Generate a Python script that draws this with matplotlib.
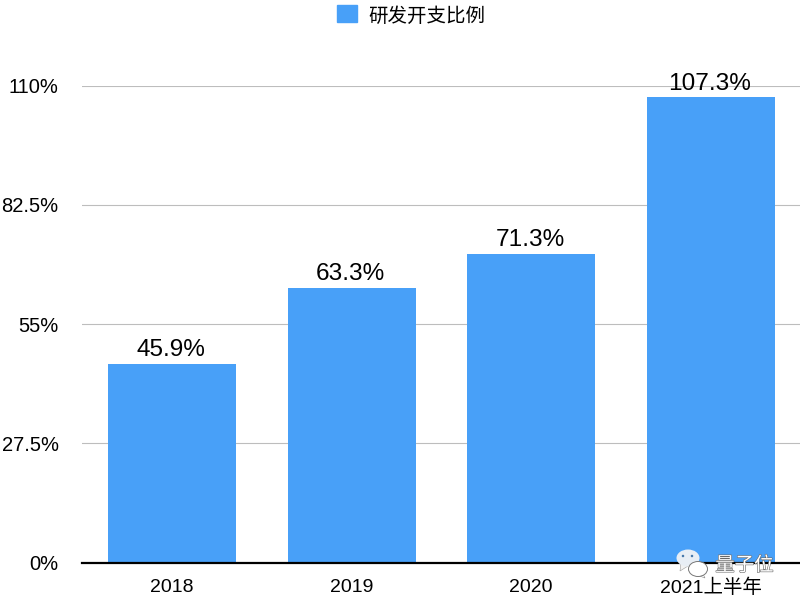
import matplotlib
matplotlib.use('Agg')
import matplotlib.pyplot as plt
import matplotlib.patheffects as pe
from matplotlib.patches import Patch, Ellipse, Polygon

plt.rcParams['font.family'] = ['Liberation Sans', 'Noto Sans CJK SC', 'DejaVu Sans']

categories = ['2018', '2019', '2020', '2021上半年']
values = [45.9, 63.3, 71.3, 107.3]
yticks = [0, 27.5, 55, 82.5, 110]
ytick_labels = ['0%', '27.5%', '55%', '82.5%', '110%']
series_name = '研发开支比例'
watermark = '量子位'

BLUE = '#48A0F8'
W, H = 800, 600
fig = plt.figure(figsize=(8, 6), dpi=100)
top, base = 85.7, 562.7
ax = fig.add_axes([82.3/W, 1-base/H, 718/W, (base-top)/H])
xs = list(range(len(categories)))
ax.bar(xs, values, width=128/179.5, color=BLUE, zorder=3)
ax.set_xlim(-0.5, 3.5)
ax.set_ylim(0, 110)
ax.set_yticks(yticks)
ax.set_yticklabels(ytick_labels, fontsize=14.5, va='center_baseline')
ax.set_xticks(xs)
ax.set_xticklabels(categories, fontsize=14)
ax.tick_params(length=0)
ax.tick_params(axis='x', pad=11.5)
ax.tick_params(axis='y', pad=17)
ax.grid(axis='y', color='#BDBDBD', lw=0.8, zorder=0)
ax.set_axisbelow(True)
for s in ['top', 'right', 'left']:
    ax.spines[s].set_visible(False)
ax.spines['bottom'].set_color('black')
ax.spines['bottom'].set_linewidth(1.6)
ax.spines['bottom'].set_zorder(5)
for x, v in zip(xs, values):
    ax.annotate(f'{v}%', (x, v), xytext=(-0.5, 2), textcoords='offset points',
                ha='center', va='bottom', fontsize=17.6, color='black', zorder=6)
leg = fig.legend(handles=[Patch(color=BLUE, label=series_name)], loc='center',
                 bbox_to_anchor=(411.5/W, 1-16.5/H), frameon=False, fontsize=14,
                 handlelength=1.0, handleheight=1.0, handletextpad=0.6)
handle = leg.get_patches()[0]
handle.set_y(handle.get_y() + 1.4)

# watermark (WeChat-style logo and name), positioned in figure pixels
overlay = fig.add_axes([0, 0, 1, 1], facecolor='none', zorder=20)
overlay.set_xlim(0, W)
overlay.set_ylim(H, 0)
overlay.axis('off')
overlay.add_patch(Polygon([(681, 563), (680, 571), (688, 566)], fc='#F2F2F2', ec='#999999', lw=0.4))
overlay.add_patch(Ellipse((688, 558), 23, 17, fc='#E8EEF5', ec='none'))
overlay.add_patch(Ellipse((683, 556), 2.5, 2.5, fc='#4477AA', ec='none'))
overlay.add_patch(Ellipse((692, 556), 2.5, 2.5, fc='#4477AA', ec='none'))
overlay.add_patch(Polygon([(702, 572), (705, 578), (697, 575)], fc='white', ec='#888888', lw=0.4))
overlay.add_patch(Ellipse((698, 569), 19, 15, fc='white', ec='#777777', lw=0.7))
overlay.text(744.5, 565.5, watermark, fontsize=14, color='white', ha='center', va='center',
             path_effects=[pe.withStroke(linewidth=0.8, foreground='#666666')])
fig.savefig('out.png', dpi=100)
